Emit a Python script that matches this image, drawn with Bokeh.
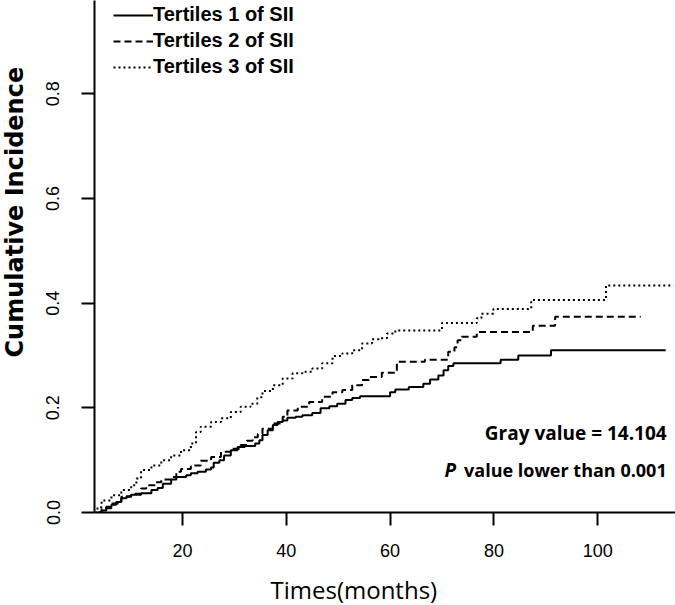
from bokeh.plotting import figure
from bokeh.models import Range1d, FixedTicker, Label, Legend, LegendItem, PrintfTickFormatter, Title
from bokeh.embed import file_html
from bokeh.resources import INLINE

# ---- data ----
t1_time = [3.8, 4.4, 5.3, 6.3, 7.2, 8.2, 9.2, 10.1, 12.0, 14.0, 15.2, 16.2, 17.8, 18.8, 20.7,
           21.6, 22.9, 24.5, 25.5, 26.0, 27.1, 28.0, 29.3, 30.6, 32.0, 34.0, 34.8, 35.4, 36.4, 37.4,
           38.3, 39.3, 40.2, 41.8, 43.1, 45.0, 46.6, 48.3, 49.8, 51.4, 52.7, 54.2, 60.0, 61.0, 63.6,
           66.4, 67.7, 69.3, 70.3, 71.2, 72.2, 81.3, 84.7, 91.0, 113.1]
t1_cif = [0.0, 0.004, 0.011, 0.015, 0.020, 0.027, 0.031, 0.034, 0.037, 0.043, 0.047, 0.055, 0.063, 0.068, 0.071,
          0.075, 0.078, 0.082, 0.086, 0.095, 0.100, 0.109, 0.119, 0.125, 0.127, 0.132, 0.138, 0.148, 0.157, 0.167,
          0.173, 0.176, 0.181, 0.183, 0.186, 0.190, 0.199, 0.203, 0.208, 0.215, 0.219, 0.222, 0.230, 0.235, 0.240,
          0.246, 0.254, 0.262, 0.272, 0.280, 0.285, 0.292, 0.300, 0.310, 0.310]

t2_time = [3.8, 4.4, 6.3, 8.2, 10.1, 12.0, 13.0, 14.9, 15.9, 17.8, 18.8, 19.7, 21.6, 23.5, 25.5,
           27.4, 29.3, 31.2, 32.4, 33.5, 34.5, 35.4, 37.4, 39.3, 40.2, 42.2, 44.4, 46.9, 48.9, 50.8,
           52.7, 54.6, 55.9, 58.4, 61.3, 66.7, 71.2, 72.4, 73.0, 73.8, 76.7, 87.5, 91.8, 108.3]
t2_cif = [0.0, 0.008, 0.017, 0.030, 0.036, 0.046, 0.052, 0.058, 0.063, 0.068, 0.078, 0.083, 0.090, 0.099, 0.106,
          0.116, 0.122, 0.129, 0.137, 0.144, 0.150, 0.160, 0.170, 0.183, 0.195, 0.202, 0.211, 0.221, 0.230, 0.234,
          0.243, 0.253, 0.259, 0.267, 0.288, 0.292, 0.307, 0.316, 0.329, 0.336, 0.345, 0.357, 0.374, 0.374]

t3_time = [3.2, 3.6, 4.4, 6.3, 8.2, 10.1, 11.1, 12.0, 14.0, 15.9, 17.8, 19.7, 21.6, 22.6, 23.5,
           25.5, 27.4, 29.3, 31.2, 33.1, 34.4, 35.4, 37.4, 39.3, 41.2, 43.1, 45.0, 46.9, 48.9, 50.8,
           52.7, 54.6, 56.5, 57.8, 59.4, 61.0, 70.0, 76.7, 77.6, 79.9, 87.2, 101.6, 114.6]
t3_cif = [0.0, 0.010, 0.023, 0.033, 0.043, 0.052, 0.065, 0.081, 0.090, 0.100, 0.109, 0.119, 0.132, 0.154, 0.164,
          0.173, 0.180, 0.192, 0.202, 0.208, 0.220, 0.232, 0.243, 0.256, 0.266, 0.269, 0.275, 0.285, 0.299, 0.304,
          0.310, 0.323, 0.331, 0.333, 0.342, 0.348, 0.362, 0.371, 0.380, 0.389, 0.406, 0.434, 0.434]

series_labels = ["Tertiles 1 of SII", "Tertiles 2 of SII", "Tertiles 3 of SII"]
x_ticks = [20, 40, 60, 80, 100]
y_ticks = [0.0, 0.2, 0.4, 0.6, 0.8]
x_title = "Times(months)"
y_title = "Cumulative Incidence"
stat_text = "Gray value = 14.104"
p_symbol = "P"
p_text = "value lower than 0.001"

# ---- figure ----
p = figure(width=675, height=605, output_backend="svg", toolbar_location=None,
           x_range=Range1d(3.03, 115.0), y_range=Range1d(0.0, 0.9784),
           min_border_left=91, min_border_right=0, min_border_top=0, min_border_bottom=93,
           background_fill_color="white", border_fill_color="white")
p.outline_line_color = None
p.grid.visible = False

p.xaxis.ticker = FixedTicker(ticks=x_ticks)
p.yaxis.ticker = FixedTicker(ticks=y_ticks)
p.yaxis.formatter = PrintfTickFormatter(format="%.1f")
for ax in p.axis:
    ax.axis_line_width = 2
    ax.axis_line_color = "black"
    ax.major_tick_line_width = 2
    ax.major_tick_line_color = "black"
    ax.major_tick_out = 13
    ax.major_tick_in = 0
    ax.minor_tick_out = 0
    ax.minor_tick_in = 0
    ax.major_label_text_font = "Liberation Sans"
    ax.major_label_text_font_size = "18px"
    ax.major_label_text_color = "black"
    # blank, tiny axis label: only reserves a little room so the titles sit further out
    ax.axis_label = " "
    ax.axis_label_text_font_size = "2px"
p.yaxis.major_label_orientation = "vertical"
p.yaxis.major_label_standoff = 22
p.xaxis.major_label_standoff = 18
p.yaxis.axis_label_standoff = 8
p.xaxis.axis_label_standoff = 6

r1 = p.step(t1_time, t1_cif, mode="after", line_color="black", line_width=2)
r2 = p.step(t2_time, t2_cif, mode="after", line_color="black", line_width=2, line_dash="7 4")
r3 = p.step(t3_time, t3_cif, mode="after", line_color="black", line_width=2, line_dash="2 3")

legend = Legend(items=[LegendItem(label=series_labels[0], renderers=[r1]),
                       LegendItem(label=series_labels[1], renderers=[r2]),
                       LegendItem(label=series_labels[2], renderers=[r3])],
                location=(19, 434), border_line_color=None, background_fill_alpha=0,
                padding=0, margin=0, spacing=3, glyph_width=40, glyph_height=20,
                label_height=20, label_standoff=0, label_text_font="Liberation Sans",
                label_text_font_style="bold", label_text_font_size="20px",
                label_text_color="black")
p.add_layout(legend)

p.add_layout(Title(text=y_title, align="left", offset=155, standoff=0, vertical_align="top",
                   text_font="DejaVu Sans", text_font_style="bold", text_font_size="24px",
                   text_color="black"), "left")
p.add_layout(Title(text=x_title, align="left", offset=176, standoff=0,
                   text_font="Open Sans", text_font_style="normal", text_font_size="24px",
                   text_color="black"), "below")

p.add_layout(Label(x=113.3, y=0.1515, text=stat_text, text_align="right",
                   text_baseline="alphabetic", text_font="Open Sans", text_font_style="bold",
                   text_font_size="19px", text_color="black"))
p.add_layout(Label(x=70.47, y=0.0808, text=p_symbol, text_align="left",
                   text_baseline="alphabetic", text_font="Open Sans", text_font_style="bold italic",
                   text_font_size="19px", text_color="black"))
p.add_layout(Label(x=113.3, y=0.0808, text=p_text, text_align="right",
                   text_baseline="alphabetic", text_font="Open Sans", text_font_style="bold",
                   text_font_size="18px", text_color="black"))

open("out.html", "w").write(file_html(p, INLINE))
